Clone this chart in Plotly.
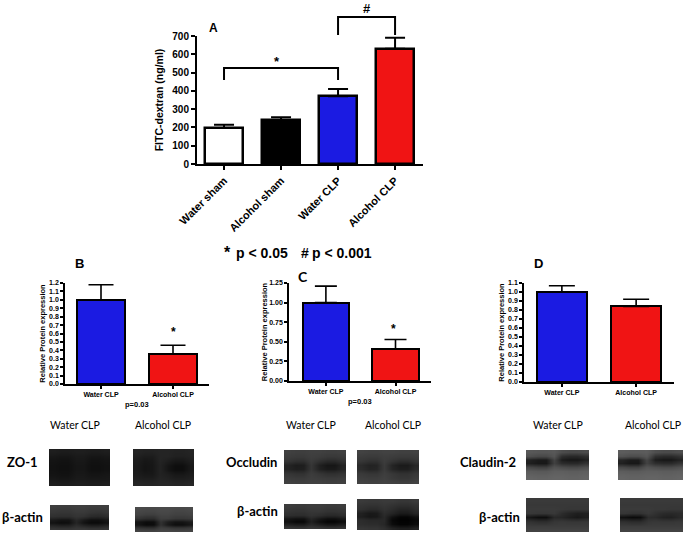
import plotly.graph_objects as go

W, H = 686, 536

# ---------- bar data ----------
a_categories = ["Water sham", "Alcohol sham", "Water CLP", "Alcohol CLP"]
a_values = [197, 238, 370, 630]
a_errors = [18, 18, 40, 60]
clp_categories = ["Water CLP", "Alcohol CLP"]
b_values = [1.0, 0.36]
b_errors = [0.18, 0.10]
c_values = [1.0, 0.41]
c_errors = [0.21, 0.12]
d_values = [1.0, 0.84]
d_errors = [0.07, 0.08]
a_ticks = [0, 100, 200, 300, 400, 500, 600, 700]
b_ticks = [0.0, 0.1, 0.2, 0.3, 0.4, 0.5, 0.6, 0.7, 0.8, 0.9, 1.0, 1.1, 1.2]
c_ticks = [0.0, 0.25, 0.5, 0.75, 1.0, 1.25]
d_ticks = [0.0, 0.1, 0.2, 0.3, 0.4, 0.5, 0.6, 0.7, 0.8, 0.9, 1.0, 1.1]
bracket_star_y = [459, 525, 525, 459]
bracket_hash_y = [705, 804, 804, 705]

# ---------- western blot grey levels (rows top to bottom, 8 lanes-columns) ----------
zo1_w = [[30, 28, 28, 30, 30, 28, 28, 30], [24, 22, 22, 26, 26, 22, 22, 24], [20, 18, 18, 24, 24, 18, 18, 20],
         [18, 16, 16, 22, 22, 16, 16, 18], [18, 16, 16, 22, 22, 16, 16, 18], [20, 18, 18, 24, 24, 20, 20, 22],
         [24, 22, 22, 26, 26, 24, 24, 24], [30, 28, 28, 30, 30, 28, 28, 30]]
zo1_a = [[36, 34, 34, 36, 36, 34, 34, 36], [32, 28, 28, 36, 36, 32, 32, 34], [28, 22, 24, 36, 30, 24, 24, 30],
         [26, 20, 22, 34, 22, 14, 14, 24], [26, 20, 22, 34, 22, 14, 14, 24], [28, 24, 24, 34, 30, 24, 24, 28],
         [32, 30, 30, 36, 34, 30, 30, 32], [38, 36, 36, 38, 38, 36, 36, 38]]
b_actin_w = [[62, 60, 60, 62, 62, 60, 60, 62], [58, 56, 56, 60, 60, 56, 56, 58], [54, 52, 52, 56, 56, 52, 50, 54],
             [48, 46, 46, 52, 50, 42, 40, 44], [26, 20, 20, 40, 26, 16, 16, 24], [18, 12, 14, 36, 18, 10, 10, 18],
             [38, 34, 34, 46, 38, 32, 32, 38], [54, 52, 52, 56, 56, 52, 52, 54]]
b_actin_a = [[74, 72, 72, 74, 74, 72, 72, 74], [70, 68, 68, 72, 72, 68, 68, 70], [66, 62, 62, 68, 68, 64, 64, 66],
             [52, 46, 46, 62, 62, 56, 56, 58], [20, 12, 14, 50, 30, 20, 20, 28], [20, 10, 12, 48, 26, 14, 14, 22],
             [50, 46, 46, 62, 58, 52, 52, 56], [68, 66, 66, 70, 70, 68, 68, 68]]
occ_w = [[64, 62, 62, 64, 64, 62, 62, 64], [60, 58, 58, 62, 60, 56, 56, 58], [52, 46, 46, 58, 48, 40, 40, 48],
         [36, 28, 30, 54, 32, 22, 22, 34], [36, 30, 32, 54, 34, 26, 26, 36], [54, 50, 50, 60, 54, 48, 48, 52],
         [60, 58, 58, 62, 60, 58, 58, 60], [64, 62, 62, 64, 64, 62, 62, 64]]
occ_a = [[66, 64, 64, 66, 66, 64, 64, 66], [60, 58, 58, 62, 60, 58, 58, 60], [54, 48, 48, 60, 52, 44, 44, 52],
         [42, 34, 36, 58, 36, 26, 26, 38], [44, 36, 38, 58, 38, 30, 30, 42], [58, 54, 54, 62, 56, 50, 50, 56],
         [62, 60, 60, 64, 58, 54, 54, 60], [66, 64, 64, 66, 64, 62, 62, 66]]
c_actin_w = [[60, 58, 58, 60, 60, 58, 58, 60], [56, 54, 54, 58, 58, 54, 54, 56], [52, 50, 50, 54, 54, 50, 50, 52],
             [46, 44, 44, 50, 46, 40, 40, 44], [22, 16, 16, 38, 24, 14, 14, 22], [16, 8, 8, 32, 16, 6, 6, 14],
             [34, 28, 28, 42, 32, 24, 24, 32], [54, 52, 52, 56, 54, 50, 50, 52]]
c_actin_a = [[58, 56, 56, 58, 58, 54, 54, 58], [52, 50, 50, 54, 50, 46, 46, 50], [48, 42, 42, 50, 44, 36, 36, 44],
             [32, 24, 26, 44, 36, 26, 26, 36], [30, 22, 24, 40, 18, 6, 6, 16], [44, 40, 40, 40, 8, 2, 2, 8],
             [46, 44, 44, 38, 12, 4, 4, 12], [54, 52, 52, 46, 34, 28, 28, 34]]
cld_w = [[88, 86, 86, 88, 76, 72, 72, 76], [78, 72, 72, 84, 46, 40, 40, 48], [34, 26, 26, 68, 28, 22, 22, 32],
         [30, 24, 24, 64, 44, 40, 40, 50], [70, 64, 64, 82, 76, 72, 72, 78], [90, 88, 88, 94, 94, 92, 92, 94],
         [96, 94, 94, 98, 98, 96, 96, 98], [100, 98, 98, 100, 100, 98, 98, 100]]
cld_a = [[92, 90, 90, 92, 78, 74, 74, 78], [82, 76, 76, 86, 48, 42, 42, 50], [38, 28, 28, 70, 28, 22, 22, 32],
         [32, 24, 24, 66, 46, 42, 42, 52], [72, 66, 66, 84, 78, 74, 74, 80], [92, 90, 90, 94, 94, 92, 92, 94],
         [98, 96, 96, 98, 98, 96, 96, 98], [100, 98, 98, 100, 100, 98, 98, 100]]
d_actin_w = [[58, 58, 58, 58, 58, 58, 58, 58], [56, 56, 56, 56, 56, 56, 56, 56], [58, 58, 58, 58, 56, 54, 54, 54],
             [56, 54, 54, 56, 44, 36, 30, 32], [22, 14, 14, 40, 38, 30, 24, 30], [50, 46, 46, 54, 56, 54, 54, 56],
             [60, 60, 60, 60, 60, 60, 60, 60], [66, 66, 66, 66, 66, 66, 66, 66]]
d_actin_a = [[58, 58, 58, 58, 58, 58, 58, 58], [56, 56, 56, 56, 56, 56, 56, 56], [58, 58, 58, 58, 56, 56, 54, 54],
             [54, 50, 50, 56, 48, 42, 40, 42], [16, 10, 12, 44, 42, 34, 32, 40], [48, 44, 44, 54, 56, 54, 54, 56],
             [60, 60, 60, 60, 60, 60, 60, 60], [66, 66, 66, 66, 66, 66, 66, 66]]

BLUE = "#1b1be2"
RED = "#f01414"
BOLD = "Liberation Sans"
LAB = "Lato"

fig = go.Figure()
layout = dict(
    width=W, height=H, autosize=False, showlegend=False,
    margin=dict(l=0, r=0, t=0, b=0, pad=0, autoexpand=False),
    paper_bgcolor="white", plot_bgcolor="rgba(0,0,0,0)",
    bargap=0,
)


def fx(p):
    return p / W


def fy(p):
    return 1 - p / H


def bar_panel(idx, cats, vals, errs, colors, px_x, px_y, ymax, ticks, tickfmt, tick_size, title,
              title_size, standoff, barw, rng, cap, lw, axw, ticklen, angle=0, xtick_size=None):
    xn, yn = f"xaxis{idx}", f"yaxis{idx}"
    fig.add_trace(go.Bar(
        x=cats, y=vals, xaxis=f"x{idx}", yaxis=f"y{idx}", width=barw,
        marker=dict(color=colors, line=dict(color="black", width=lw)),
        error_y=dict(type="data", symmetric=False, array=errs, arrayminus=[0] * len(errs),
                     thickness=axw, width=cap, color="black"),
        hoverinfo="x+y", cliponaxis=False,
    ))
    tf = dict(family=BOLD, size=tick_size, color="black", weight=700)
    xtf = dict(family=BOLD, size=xtick_size or tick_size, color="black", weight=700)
    layout[xn] = dict(
        domain=[fx(px_x[0]), fx(px_x[1])], anchor=f"y{idx}", type="category", range=rng,
        categoryorder="array", categoryarray=cats,
        showline=True, linecolor="black", linewidth=axw, ticks="outside", ticklen=ticklen,
        tickwidth=axw, tickcolor="black", showgrid=False, zeroline=False, tickangle=angle,
        tickfont=xtf, fixedrange=True,
    )
    layout[yn] = dict(
        domain=[fy(px_y[1]), fy(px_y[0])], anchor=f"x{idx}", range=[0, ymax],
        tickvals=ticks, ticktext=[tickfmt.format(t) for t in ticks],
        showline=True, linecolor="black", linewidth=axw, ticks="outside", ticklen=ticklen,
        tickwidth=axw, tickcolor="black", showgrid=False, zeroline=False,
        tickfont=tf, fixedrange=True,
        title=dict(text=title, font=dict(family=BOLD, size=title_size, color="black", weight=700),
                   standoff=standoff),
    )


bar_panel(1, a_categories, a_values, a_errors, ["white", "black", BLUE, RED], (197, 423), (36, 164),
          700, a_ticks, "{:d}", 10, "FITC-dextran (ng/ml)", 10.5, 7, 0.66, [-0.474, 3.49], 10, 2.5, 2, 4, -45, 11)
bar_panel(2, clp_categories, b_values, b_errors, [BLUE, RED], (65, 209), (283, 384),
          1.2, b_ticks, "{:.1f}", 7, "Relative Protein expression", 7.5, 2, 0.667, [-0.5, 1.5], 12.5, 2, 1.6, 3)
bar_panel(3, clp_categories, c_values, c_errors, [BLUE, RED], (289, 431), (283, 381),
          1.25, c_ticks, "{:.2f}", 7, "Relative Protein expression", 7.5, 0, 0.667, [-0.53, 1.51], 11, 2, 1.6, 3)
bar_panel(4, clp_categories, d_values, d_errors, [BLUE, RED], (524, 674), (283, 382),
          1.1, d_ticks, "{:.1f}", 7, "Relative Protein expression", 7.5, 2, 0.676, [-0.51, 1.51], 13, 2, 1.6, 3)

# significance brackets on panel A: same value scale as panel A's y axis, carried on a hidden
# axis that continues above 700 up to the top of the page
layout["yaxis20"] = dict(domain=[fy(164), 1], anchor="x1", range=[0, 700 * 164 / 128], visible=False, fixedrange=True)
for cats, ys in [([a_categories[0], a_categories[0], a_categories[2], a_categories[2]], bracket_star_y),
                 ([a_categories[2], a_categories[2], a_categories[3], a_categories[3]], bracket_hash_y)]:
    fig.add_trace(go.Scatter(x=cats, y=ys, xaxis="x1", yaxis="y20", mode="lines",
                             line=dict(color="black", width=2), hoverinfo="skip"))

# blots: (matrix, x0, x1, y0, y1)
blots = [
    (zo1_w, 49, 110, 449, 486), (zo1_a, 133, 194, 449, 486),
    (b_actin_w, 50, 109, 505, 530), (b_actin_a, 135, 193, 507, 532),
    (occ_w, 284, 346, 450, 484), (occ_a, 357, 419, 450, 484),
    (c_actin_w, 284, 346, 504, 529), (c_actin_a, 357, 419, 499, 530),
    (cld_w, 526, 589, 450, 480), (cld_a, 618, 683, 450, 480),
    (d_actin_w, 526, 589, 498, 532), (d_actin_a, 620, 683, 498, 532),
]
for i, (z, x0, x1, y0, y1) in enumerate(blots):
    k = 5 + i
    fig.add_trace(go.Heatmap(z=z, xaxis=f"x{k}", yaxis=f"y{k}", zmin=0, zmax=255, zsmooth="best",
                             colorscale=[[0, "black"], [1, "white"]], showscale=False, hoverinfo="skip"))
    layout[f"xaxis{k}"] = dict(domain=[fx(x0), fx(x1)], anchor=f"y{k}", visible=False, range=[-0.5, 7.5], fixedrange=True)
    layout[f"yaxis{k}"] = dict(domain=[fy(y1), fy(y0)], anchor=f"x{k}", visible=False, range=[7.5, -0.5], fixedrange=True)


def note(text, x, y, size, family=BOLD, weight=700):
    return dict(text=text, x=fx(x), y=fy(y), xref="paper", yref="paper", xanchor="center", yanchor="middle",
                showarrow=False, font=dict(family=family, size=size, color="black", weight=weight))


notes = [
    note("A", 213, 28, 12), note("B", 79, 263, 13), note("C", 303, 276, 14, LAB), note("D", 538, 263, 13),
    note("*", 277, 61, 13), note("#", 367, 8, 13),
    note("*", 227, 252, 16), note("p &lt; 0.05", 262, 253, 14), note("#", 305, 253, 14), note("p &lt; 0.001", 342, 253, 14),
    note("*", 173, 332, 12), note("*", 394, 329, 12),
    note("p=0.03", 137, 404, 7.5), note("p=0.03", 360, 401, 7.5),
    note("ZO-1", 22, 462, 13, LAB), note("β-actin", 22, 517, 13, LAB),
    note("Occludin", 251, 462, 13, LAB), note("β-actin", 257, 511, 13, LAB),
    note("Claudin-2", 488, 462, 13, LAB), note("β-actin", 499, 517, 13, LAB),
]
for cx, label in [(75, "Water CLP"), (163, "Alcohol CLP"), (311, "Water CLP"), (393, "Alcohol CLP"),
                  (558, "Water CLP"), (653, "Alcohol CLP")]:
    notes.append(note(label, cx, 425, 10.5, LAB, 400))
layout["annotations"] = notes

fig.update_layout(**layout)
fig.write_html("out.html", config={"displayModeBar": False},
               post_script="document.body.style.margin='0';document.documentElement.style.overflow='hidden';")
